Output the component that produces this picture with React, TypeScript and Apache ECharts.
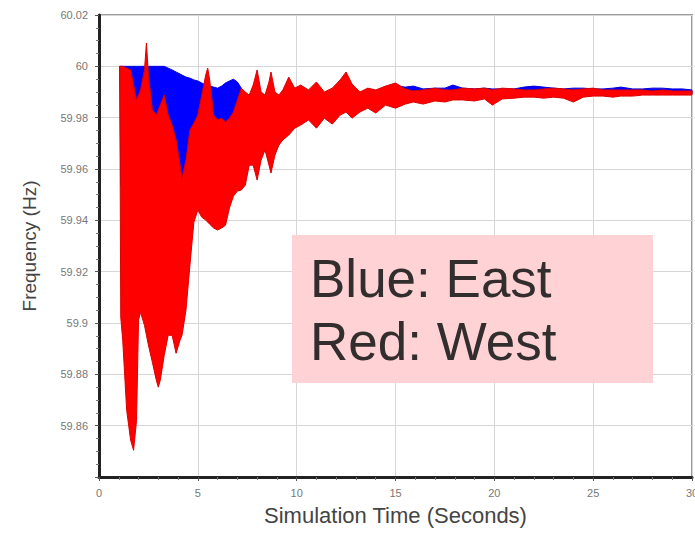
import React, { useEffect, useRef } from "react";
import * as echarts from "echarts";

// Simulation time (s)
const time = [
  1.05, 1.1, 1.2, 1.4, 1.6, 1.75, 1.9, 2.0, 2.1, 2.3, 2.4, 2.5, 2.7, 2.9, 3.0, 3.1, 3.3, 3.5, 3.7, 3.9,
  4.1, 4.2, 4.4, 4.6, 4.8, 5.0, 5.2, 5.4, 5.5, 5.6, 5.8, 6.0, 6.2, 6.4, 6.6, 6.8, 7.0, 7.2, 7.4, 7.6,
  7.8, 8.0, 8.2, 8.4, 8.6, 8.7, 8.9, 9.1, 9.3, 9.6, 9.9,
  10.2, 10.6, 11.0, 11.4, 11.8, 12.2, 12.5, 12.8, 13.2, 13.6, 14.0, 14.5, 15.0, 15.5, 15.9, 16.4, 17.0,
  17.5, 17.9, 18.4, 19.0, 19.5, 19.9, 20.4, 21.0, 21.5, 22.0, 22.5, 23.0, 23.5, 24.0, 24.5, 25.0, 25.5,
  26.0, 26.4, 27.0, 27.5, 28.0, 28.5, 29.0, 29.5, 30.0,
];

// West (red) envelope, Hz
const westUpper = [
  60.0, 60.0, 60.0, 59.9993, 59.9986, 59.9927, 59.9869, 59.9888, 59.9908, 59.9986, 60.0091, 59.9966,
  59.983, 59.981, 59.983, 59.9849, 59.9888, 59.981, 59.9771, 59.9713, 59.9615, 59.9565, 59.9635,
  59.9752, 59.9779, 59.981, 59.9888, 59.9966, 59.9993, 59.9947, 59.981, 59.9791, 59.9798, 59.9783,
  59.9798, 59.9822, 59.9869, 59.9915, 59.99, 59.9888, 59.9927, 59.9986, 59.99, 59.9888, 59.9939,
  59.9978, 59.99, 59.9888, 59.9908, 59.9958, 59.9915,
  59.9927, 59.9908, 59.9939, 59.99, 59.9915, 59.9947, 59.9978, 59.9931, 59.99, 59.9915, 59.9908,
  59.9923, 59.9935, 59.9912, 59.9904, 59.9908, 59.9915, 59.9908, 59.9908, 59.9915, 59.9912, 59.9915,
  59.9908, 59.9915, 59.9912, 59.9908, 59.9908, 59.9912, 59.9915, 59.9912, 59.9908, 59.9912, 59.9915,
  59.9908, 59.9908, 59.9908, 59.9908, 59.9908, 59.9904, 59.9908, 59.9904, 59.9904, 59.9904,
];
const westLower = [
  60.0, 59.9023, 59.8933, 59.866, 59.8543, 59.8504, 59.8621, 59.9011, 59.9042, 59.8991, 59.8952,
  59.8914, 59.8847, 59.8777, 59.875, 59.8777, 59.8874, 59.8952, 59.8952, 59.8882, 59.8933, 59.8952,
  59.905, 59.9225, 59.9393, 59.944, 59.9412, 59.9401, 59.9393, 59.9385, 59.937, 59.9362, 59.937,
  59.9381, 59.9448, 59.9494, 59.9514, 59.9518, 59.9537, 59.9615, 59.9615, 59.9557, 59.9635, 59.9674,
  59.9615, 59.9584, 59.9654, 59.9693, 59.9713, 59.9732, 59.9759,
  59.9771, 59.9791, 59.9759, 59.9798, 59.9775, 59.981, 59.9822, 59.9798, 59.9822, 59.9837, 59.9818,
  59.9849, 59.9837, 59.9853, 59.9861, 59.9853, 59.9865, 59.9861, 59.9869, 59.9869, 59.9865, 59.9873,
  59.9849, 59.9873, 59.9876, 59.988, 59.988, 59.9876, 59.988, 59.9876, 59.9861, 59.988, 59.9884,
  59.9884, 59.988, 59.9884, 59.9884, 59.9888, 59.9888, 59.9888, 59.9888, 59.9888, 59.9888,
];

// East (blue) envelope, Hz
const eastUpper = [
  60.0, 60.0, 60.0, 60.0, 60.0, 60.0, 60.0, 60.0, 60.0, 60.0, 60.0, 60.0, 60.0, 60.0, 60.0, 60.0, 60.0,
  59.9993, 59.9986, 59.9978, 59.997, 59.9966, 59.9958, 59.9954, 59.9947, 59.9943, 59.9935, 59.9927,
  59.9927, 59.9923, 59.9919, 59.9915, 59.9923, 59.9935, 59.9943, 59.995, 59.9939, 59.9915, 59.9884,
  59.9884, 59.9884, 59.9884, 59.9884, 59.9884, 59.9884, 59.9884, 59.9884, 59.9884, 59.9884, 59.9884,
  59.9884,
  59.9915, 59.9904, 59.9915, 59.9896, 59.9908, 59.9915, 59.9923, 59.9915, 59.9896, 59.9912, 59.9904,
  59.9915, 59.9923, 59.9919, 59.9923, 59.9912, 59.9915, 59.9915, 59.9927, 59.9915, 59.9912, 59.9915,
  59.9912, 59.9912, 59.9912, 59.9919, 59.9923, 59.9919, 59.9915, 59.9912, 59.9915, 59.9915, 59.9912,
  59.9912, 59.9915, 59.9919, 59.9912, 59.9912, 59.9915, 59.9915, 59.9912, 59.9912, 59.9908,
];
const eastLower = [
  60.0, 59.9537, 59.9537, 59.9537, 59.9537, 59.9537, 59.9537, 59.9537, 59.9537, 59.9537, 59.9537,
  59.9537, 59.9537, 59.9537, 59.9537, 59.9537, 59.9537, 59.9537, 59.9537, 59.9537, 59.9537, 59.9537,
  59.9537, 59.9537, 59.9537, 59.9537, 59.9713, 59.9713, 59.9713, 59.9713, 59.9713, 59.9713, 59.9713,
  59.9713, 59.9713, 59.9713, 59.9713, 59.9713, 59.981, 59.981, 59.981, 59.981, 59.981, 59.981, 59.981,
  59.981, 59.981, 59.981, 59.981, 59.981, 59.981,
  59.983, 59.9822, 59.9822, 59.983, 59.983, 59.9837, 59.9845, 59.9845, 59.9853, 59.9853, 59.9853,
  59.9861, 59.9861, 59.9869, 59.9869, 59.9869, 59.9873, 59.9873, 59.9876, 59.9876, 59.988, 59.988,
  59.988, 59.9884, 59.9884, 59.9888, 59.9888, 59.9888, 59.9888, 59.9888, 59.9888, 59.9892, 59.9892,
  59.9892, 59.9892, 59.9892, 59.9892, 59.9892, 59.9892, 59.9892, 59.9892, 59.9892, 59.9892,
];

const legendLines = ["Blue: East", "Red: West"];
const FONT = "Liberation Sans, Arial, sans-serif";

function bandSeries(name: string, up: number[], lo: number[], fill: string, stroke: string, z: number) {
  return {
    name,
    type: "custom",
    coordinateSystem: "cartesian2d",
    silent: true,
    z,
    data: time.map((t, i) => [t, up[i], lo[i]]),
    encode: { x: 0, y: [1, 2] },
    renderItem: (params: any, api: any) => {
      if (params.dataIndex !== 0) return null;
      const pts: number[][] = [];
      for (let i = 0; i < time.length; i++) pts.push(api.coord([time[i], up[i]]));
      for (let i = time.length - 1; i >= 0; i--) pts.push(api.coord([time[i], lo[i]]));
      return {
        type: "polygon",
        shape: { points: pts },
        style: { fill, stroke, lineWidth: 1, lineJoin: "round" },
      };
    },
  };
}

export default function App() {
  const ref = useRef<HTMLDivElement>(null);
  useEffect(() => {
    if (!ref.current) return;
    const chart = echarts.init(ref.current, null, { renderer: "svg" });
    chart.setOption({
      animation: false,
      backgroundColor: "#ffffff",
      textStyle: { fontFamily: FONT },
      grid: {
        left: 99,
        right: 3,
        top: 15,
        bottom: 61,
        containLabel: false,
        outerBoundsMode: "none",
        show: true,
        borderColor: "#9a9a9a",
        borderWidth: 2,
        backgroundColor: "transparent",
      },
      xAxis: {
        type: "value",
        min: 0,
        max: 30,
        interval: 5,
        name: "Simulation Time (Seconds)",
        nameLocation: "middle",
        nameGap: 27,
        nameTextStyle: { fontSize: 22, color: "#444", fontFamily: FONT },
        axisLine: { show: true, onZero: false, lineStyle: { color: "#222", width: 3 } },
        axisTick: { show: true, length: 4, lineStyle: { color: "#555" } },
        minorTick: { show: true, splitNumber: 5, length: 3, lineStyle: { color: "#777" } },
        axisLabel: { fontSize: 11, color: "#777", margin: 10, fontFamily: FONT, hideOverlap: false },
        splitLine: { show: true, lineStyle: { color: "#d6d6d6", width: 1 } },
      },
      yAxis: {
        type: "value",
        min: 59.84,
        max: 60.02,
        interval: 0.02,
        name: "Frequency (Hz)",
        nameLocation: "middle",
        nameGap: 60,
        nameTextStyle: { fontSize: 19, color: "#444", fontFamily: FONT },
        axisLine: { show: true, onZero: false, lineStyle: { color: "#222", width: 3 } },
        axisTick: { show: true, length: 4, lineStyle: { color: "#555" } },
        minorTick: { show: true, splitNumber: 4, length: 3, lineStyle: { color: "#777" } },
        axisLabel: {
          fontSize: 11,
          color: "#777",
          margin: 11,
          fontFamily: FONT,
          formatter: (v: number) => (Math.abs(v - 59.84) < 1e-6 ? "" : String(+v.toFixed(2))),
        },
        splitLine: { show: true, lineStyle: { color: "#d6d6d6", width: 1 } },
      },
      series: [
        bandSeries("East", eastUpper, eastLower, "#0000ff", "#0000e0", 2),
        bandSeries("West", westUpper, westLower, "#ff0000", "#dc0000", 3),
      ],
      graphic: [
        {
          type: "rect",
          x: 292,
          y: 235,
          shape: { width: 361, height: 148 },
          style: { fill: "#ffd3d5" },
          z: 100,
        },
        ...legendLines.map((txt, i) => ({
          type: "text",
          x: 310,
          y: 278 + i * 63,
          z: 101,
          style: {
            text: txt,
            fontSize: 53,
            fontFamily: FONT,
            fill: "#332e2e",
            align: "left",
            verticalAlign: "middle",
          },
        })),
      ],
    });
    return () => chart.dispose();
  }, []);
  return (
    <div
      ref={ref}
      style={{ position: "absolute", left: 0, top: 0, width: 695, height: 538, background: "#fff" }}
    />
  );
}
